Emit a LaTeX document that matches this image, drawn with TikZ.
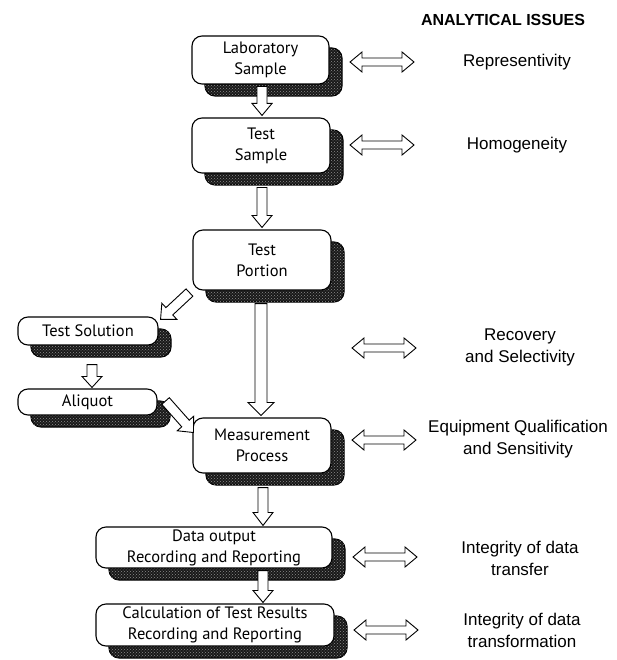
\documentclass[tikz,border=0pt]{standalone}
\usepackage{fontspec}
\setmainfont{PT Sans}
\newfontfamily\arialfont{Liberation Sans}
\usetikzlibrary{calc,shadows,patterns}
\tikzset{
  box/.style={draw, line width=1.1pt, fill=white, rounded corners=10pt, align=center,
    font=\fontsize{16.5}{21}\selectfont, inner sep=0pt,
    general shadow={shadow xshift=13pt, shadow yshift=-12pt, fill=black!90, draw=black, opacity=1},
    general shadow={shadow xshift=13pt, shadow yshift=-12pt, pattern=crosshatch dots, pattern color=black!45, opacity=1}},
  blockarr/.style={draw, line width=0.9pt, fill=white, line join=miter},
  issue/.style={font=\arialfont\fontsize{17}{22}\selectfont, align=center, inner sep=0pt},
}
\newcommand\blockarrow[5]{%
  \draw[blockarr] let \p1=(#1), \p2=(#2), \n1={atan2(\y2-\y1,\x2-\x1)},
    \n2={veclen(\x2-\x1,\y2-\y1)-#5pt} in
    ($(\p1)+(\n1+90:#3pt)$) -- ($(\p1)+(\n1:\n2)+(\n1+90:#3pt)$) --
    ($(\p1)+(\n1:\n2)+(\n1+90:#4pt)$) -- (\p2) --
    ($(\p1)+(\n1:\n2)+(\n1-90:#4pt)$) -- ($(\p1)+(\n1:\n2)+(\n1-90:#3pt)$) --
    ($(\p1)+(\n1-90:#3pt)$) -- cycle;}
\newcommand\doublearrow[5]{%
  \draw[blockarr] let \p1=(#1), \p2=(#2), \n1={atan2(\y2-\y1,\x2-\x1)},
    \n2={veclen(\x2-\x1,\y2-\y1)-#5pt}, \n3={#5pt} in
    ($(\p1)+(\n1:\n3)+(\n1+90:#3pt)$) -- ($(\p1)+(\n1:\n2)+(\n1+90:#3pt)$) --
    ($(\p1)+(\n1:\n2)+(\n1+90:#4pt)$) -- (\p2) --
    ($(\p1)+(\n1:\n2)+(\n1-90:#4pt)$) -- ($(\p1)+(\n1:\n2)+(\n1-90:#3pt)$) --
    ($(\p1)+(\n1:\n3)+(\n1-90:#3pt)$) -- ($(\p1)+(\n1:\n3)+(\n1-90:#4pt)$) --
    (\p1) -- ($(\p1)+(\n1:\n3)+(\n1+90:#4pt)$) -- cycle;}
\begin{document}
\begin{tikzpicture}[x=1pt,y=-1pt]
\useasboundingbox (0,0) rectangle (617,660);
% boxes
\node[box, minimum width=137pt, minimum height=48pt] (lab) at (260.5,60) {Laboratory\\Sample};
\node[box, minimum width=138pt, minimum height=55pt] (ts) at (261,145.5) {Test\\Sample};
\node[box, minimum width=138pt, minimum height=60pt] (tp) at (262,260) {Test\\Portion};
\node[box, minimum width=140pt, minimum height=28pt] (sol) at (88,331) {Test Solution};
\node[box, minimum width=139pt, minimum height=26pt] (ali) at (87.5,402) {Aliquot};
\node[box, minimum width=138pt, minimum height=55pt] (meas) at (262,445.5) {Measurement\\Process};
\node[box, minimum width=236pt, minimum height=41pt] (data) at (214,547.5) {Data output\\Recording and Reporting};
\node[box, minimum width=238pt, minimum height=42pt] (calc) at (215,625) {Calculation of Test Results\\Recording and Reporting};
% flow arrows
\coordinate (a1s) at ($(lab.south)+(1.5,2)$);
\coordinate (a1e) at ($(lab.south |- ts.north)+(1.5,-2)$);
\blockarrow{a1s}{a1e}{5}{10}{12}
\coordinate (a2s) at ($(ts.south)+(1,14)$);
\coordinate (a2e) at ($(ts.south |- tp.north)+(1,-2)$);
\blockarrow{a2s}{a2e}{5}{10}{12}
\coordinate (a3s) at ($(tp.south)+(-1,13)$);
\coordinate (a3e) at ($(tp.south |- meas.north)+(-1,-2)$);
\blockarrow{a3s}{a3e}{6}{13}{13}
\coordinate (a4s) at ($(tp.south west)+(-3,2)$);
\coordinate (a4e) at ($(sol.north east)+(2,3)$);
\blockarrow{a4s}{a4e}{5}{11}{12}
\coordinate (a5s) at ($(sol.south)+(4,19)$);
\coordinate (a5e) at ($(sol.south |- ali.north)+(4,-1)$);
\blockarrow{a5s}{a5e}{5}{10}{11}
\coordinate (a6s) at ($(ali.east)+(8,-1)$);
\coordinate (a6e) at ($(meas.west)+(1,-13)$);
\blockarrow{a6s}{a6e}{5}{11}{12}
\coordinate (a7s) at ($(meas.south)+(1,14)$);
\coordinate (a7e) at ($(meas.south |- data.north)+(1,-1)$);
\blockarrow{a7s}{a7e}{5}{10}{13}
\coordinate (a8s) at ($(meas.south |- data.south)+(1,2)$);
\coordinate (a8e) at ($(meas.south |- calc.north)+(1,-1)$);
\blockarrow{a8s}{a8e}{5}{10}{12}
% issues
\node[font=\arialfont\bfseries\fontsize{16}{20}\selectfont, inner sep=0pt] (title) at (503,20) {ANALYTICAL ISSUES};
\node[issue] (i1) at (517,62) {Representivity};
\node[issue] (i2) at (517,145) {Homogeneity};
\node[issue] (i3) at (520,347) {Recovery\\and Selectivity};
\node[issue] (i4) at (518,439) {Equipment Qualification\\and Sensitivity};
\node[issue] (i5) at (520,558) {Integrity of data\\transfer};
\node[issue] (i6) at (522,630) {Integrity of data\\transformation};
\coordinate (d1s) at (350,62);  \coordinate (d1e) at (414,62);
\coordinate (d2s) at (350,145); \coordinate (d2e) at (414,145);
\coordinate (d3s) at (352,348); \coordinate (d3e) at (416,348);
\coordinate (d4s) at (352,440); \coordinate (d4e) at (416,440);
\coordinate (d5s) at (353,557); \coordinate (d5e) at (417,557);
\coordinate (d6s) at (354,630); \coordinate (d6e) at (418,630);
\doublearrow{d1s}{d1e}{4}{10}{12}
\doublearrow{d2s}{d2e}{4}{10}{12}
\doublearrow{d3s}{d3e}{4}{10}{12}
\doublearrow{d4s}{d4e}{4}{10}{12}
\doublearrow{d5s}{d5e}{4}{10}{12}
\doublearrow{d6s}{d6e}{4}{10}{12}
\end{tikzpicture}
\end{document}
